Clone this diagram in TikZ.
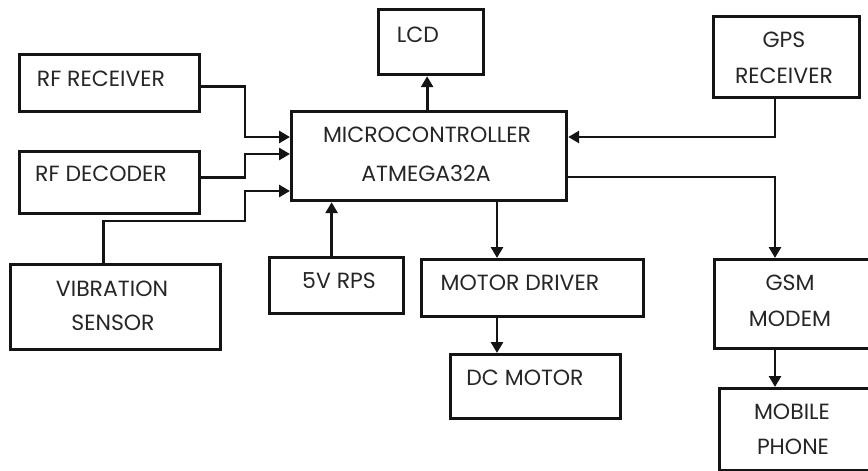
\documentclass[tikz,border=0pt]{standalone}
\usepackage{fontspec}
\setmainfont{Poppins}
\usetikzlibrary{arrows.meta}
\definecolor{ink}{HTML}{141414}
\definecolor{txt}{HTML}{262626}
\begin{document}
\begin{tikzpicture}[x=1pt,y=-1pt,
  blk/.style={draw=ink,line width=3.2pt,inner sep=0pt,anchor=north west},
  lbl/.style={text=txt,font=\fontsize{22}{22}\selectfont,inner sep=0pt,anchor=center},
  arr/.style={draw=ink,line width=2.8pt,-{Triangle[length=11pt,width=12pt]}},
  ln/.style={draw=ink,line width=2.8pt}]
\useasboundingbox (0,0) rectangle (868,471);
\begin{scope}
\clip (0,0) rectangle (868,471);
% boxes
\node[blk,minimum width=180pt,minimum height=57pt] (rfr) at (18,53) {};
\node[blk,minimum width=180pt,minimum height=62pt] (rfd) at (18,150) {};
\node[blk,minimum width=210pt,minimum height=85pt] (vib) at (9,263) {};
\node[blk,minimum width=134pt,minimum height=56pt] (rps) at (268,256) {};
\node[blk,minimum width=275pt,minimum height=89pt] (mc) at (290,110) {};
\node[blk,minimum width=105pt,minimum height=65pt] (lcd) at (377,8) {};
\node[blk,minimum width=146pt,minimum height=81pt] (gps) at (712,15) {};
\node[blk,minimum width=222pt,minimum height=57pt] (md) at (420,258) {};
\node[blk,minimum width=170pt,minimum height=64pt] (dc) at (449,353) {};
\node[blk,minimum width=165pt,minimum height=89pt] (gsm) at (713,258) {};
\node[blk,minimum width=160pt,minimum height=82pt] (mob) at (718,387) {};
\end{scope}
% labels
\node[lbl] (trfr) at (101,79) {RF RECEIVER};
\node[lbl] (trfd) at (101,174) {RF DECODER};
\node[lbl] (tvib1) at (112,289) {VIBRATION};
\node[lbl] (tvib2) at (113,323) {SENSOR};
\node[lbl] (trps) at (339,281) {5V RPS};
\node[lbl] (tmc1) at (427,135) {MICROCONTROLLER};
\node[lbl] (tmc2) at (426,173) {ATMEGA32A};
\node[lbl] (tlcd) at (418,35) {LCD};
\node[lbl] (tgps1) at (784,40) {GPS};
\node[lbl] (tgps2) at (784,76) {RECEIVER};
\node[lbl] (tmd) at (520,283) {MOTOR DRIVER};
\node[lbl] (tdc) at (525,378) {DC MOTOR};
\node[lbl] (tgsm1) at (790,283) {GSM};
\node[lbl] (tgsm2) at (790,319) {MODEM};
\node[lbl] (tmob1) at (792,412) {MOBILE};
\node[lbl] (tmob2) at (793,447) {PHONE};
% bend points
\coordinate (b1) at (245,137);
\coordinate (b2) at (245,154);
\coordinate (b3) at (245,221);
\coordinate (b4) at (245,191);
\coordinate (g1) at (775,137);
\coordinate (g2) at (775,177);
% connectors
\draw[arr] ([yshift=-3.5pt]rfr.east) -| (b1) -- (mc.west |- b1);
\draw[arr] ([yshift=5pt]rfd.east) -| (b2) -- (mc.west |- b2);
\draw[arr] ([xshift=-12pt]vib.north) |- (b3) -- (b4) -- (mc.west |- b4);
\draw[arr] ([xshift=-5pt]rps.north) -- ([xshift=-5pt]rps.north |- mc.south);
\draw[arr] ([xshift=-2pt]mc.north) -- ([xshift=-2pt]mc.north |- lcd.south);
\draw[arr] (gps.south -| g1) -- (g1) -- (mc.east |- g1);
\draw[arr] (mc.east |- g2) -- (g2) -- (g2 |- gsm.north);
\draw[arr] (mc.south -| 497,0) -- (md.north -| 497,0);
\draw[arr] (md.south -| 497,0) -- (dc.north -| 497,0);
\draw[arr] (gsm.south -| g1) -- (mob.north -| g1);
\end{tikzpicture}
\end{document}
